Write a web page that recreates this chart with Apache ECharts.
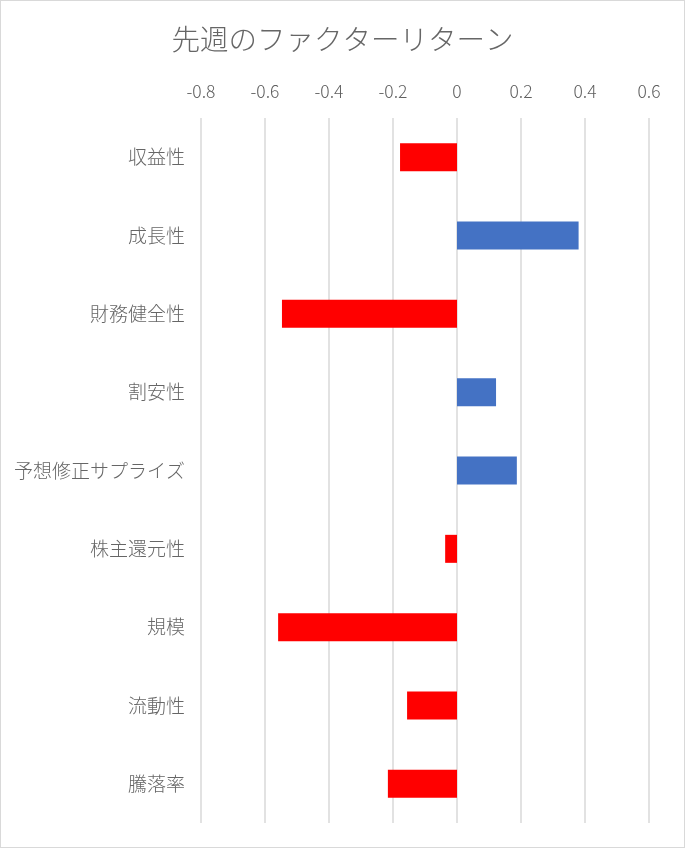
<!DOCTYPE html>
<html>
<head>
<meta charset="utf-8">
<script src="https://cdn.jsdelivr.net/npm/echarts@6/dist/echarts.min.js"></script>
<style>
  html, body { margin: 0; padding: 0; background: #fff; }
  #chart { width: 685px; height: 848px; box-sizing: border-box; border: 1px solid #d9d9d9; }
</style>
</head>
<body>
<div id="chart"></div>
<script>
// ファクター名と先週のリターン
var factors = ['収益性', '成長性', '財務健全性', '割安性', '予想修正サプライズ', '株主還元性', '規模', '流動性', '騰落率'];
var returns = [-0.178, 0.380, -0.547, 0.122, 0.187, -0.037, -0.559, -0.156, -0.216];
var xTicks = { min: -0.8, max: 0.6, interval: 0.2 };

var posColor = '#4472C4';
var negColor = '#FF0000';
var fontJP = '"Noto Sans CJK JP", "Noto Sans", sans-serif';

var chart = echarts.init(document.getElementById('chart'));

var option = {
  animation: false,
  textStyle: { fontFamily: fontJP },
  title: {
    text: '先週のファクターリターン',
    left: 'center',
    top: 19,
    textStyle: { fontSize: 28.5, fontWeight: 300, color: '#666666', fontFamily: fontJP }
  },
  grid: {
    left: 200,
    right: 35,
    top: 117,
    bottom: 24
  },
  xAxis: {
    type: 'value',
    position: 'top',
    min: xTicks.min,
    max: xTicks.max,
    interval: xTicks.interval,
    axisLine: { show: false },
    axisTick: { show: false },
    axisLabel: {
      color: '#5f5f5f',
      fontSize: 17.5,
      fontWeight: 300,
      margin: 18,
      formatter: function (v) {
        return String(Math.round(v * 10) / 10);
      }
    },
    splitLine: { lineStyle: { color: '#d9d9d9', width: 1.5 } }
  },
  yAxis: {
    type: 'category',
    inverse: true,
    data: factors,
    axisLine: { show: false },
    axisTick: { show: false },
    axisLabel: { color: '#666666', fontSize: 19, fontWeight: 300, margin: 16 }
  },
  series: [
    {
      type: 'bar',
      data: returns,
      barWidth: 28,
      itemStyle: {
        color: function (p) {
          return p.value < 0 ? negColor : posColor;
        }
      }
    }
  ]
};

chart.setOption(option);
</script>
</body>
</html>
